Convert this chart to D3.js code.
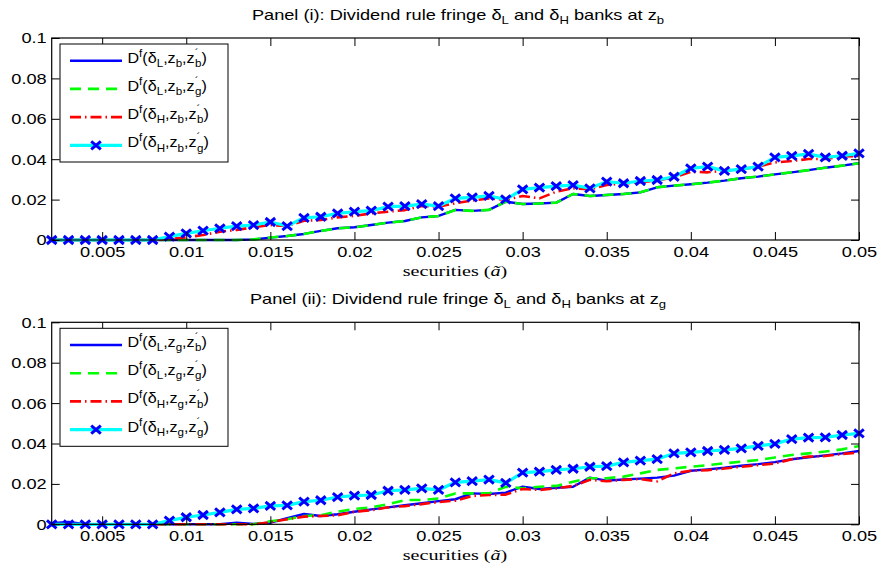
<!DOCTYPE html>
<html><head><meta charset="utf-8">
<script src="https://cdn.jsdelivr.net/npm/d3@7"></script>
<style>body{margin:0;background:#fff}svg{display:block}</style>
</head><body>
<svg id="c" width="879" height="564"></svg>
<script>
const xValues = [0.002,0.003,0.004,0.005,0.006,0.007,0.008,0.009,0.010,0.011,
  0.012,0.013,0.014,0.015,0.016,0.017,0.018,0.019,0.020,0.021,
  0.022,0.023,0.024,0.025,0.026,0.027,0.028,0.029,0.030,0.031,
  0.032,0.033,0.034,0.035,0.036,0.037,0.038,0.039,0.040,0.041,
  0.042,0.043,0.044,0.045,0.046,0.047,0.048,0.049,0.050];

// Panel (i)
const topLb = [0,0,0,0,0,0,0,0,0,0,
  0,0,0.0003,0.0012,0.002,0.003,0.0045,0.0058,0.0063,0.0074,
  0.0086,0.0094,0.0112,0.0119,0.0149,0.0144,0.0149,0.019,0.0178,0.0181,
  0.0185,0.0228,0.0218,0.0223,0.0228,0.0236,0.0261,0.0269,0.0276,0.0284,
  0.0294,0.0306,0.0314,0.0325,0.0335,0.0346,0.0358,0.0368,0.038];
const topLg = [0,0,0,0,0,0,0,0,0,0,
  0,0,0.0003,0.0012,0.002,0.003,0.0045,0.0058,0.0063,0.0074,
  0.0086,0.0094,0.0112,0.0119,0.0149,0.0144,0.0149,0.019,0.0178,0.0181,
  0.0185,0.0228,0.0218,0.0223,0.0228,0.0236,0.0261,0.0269,0.0276,0.0284,
  0.0294,0.0306,0.0314,0.0325,0.0335,0.0346,0.0358,0.0368,0.038];
const topHb = [0,0,0,0,0,0,0,0.0005,0.0013,0.0025,
  0.0041,0.005,0.0063,0.0074,0.0069,0.0095,0.0099,0.0112,0.0119,0.0132,
  0.014,0.0148,0.0168,0.0165,0.0182,0.0195,0.0206,0.0199,0.0218,0.0206,
  0.0239,0.0256,0.0251,0.0272,0.028,0.0286,0.0295,0.031,0.0338,0.0335,
  0.0343,0.035,0.0363,0.0384,0.0391,0.0401,0.0401,0.0413,0.0416];
const topHg = [0,0,0,0,0,0,0,0.0017,0.0033,0.0046,
  0.0058,0.0069,0.0074,0.0089,0.0069,0.011,0.0115,0.0132,0.014,0.0145,
  0.0165,0.0168,0.0178,0.0168,0.0206,0.0211,0.0218,0.0201,0.0251,0.0259,
  0.0267,0.0272,0.0256,0.0289,0.0281,0.0292,0.0297,0.0313,0.0355,0.0363,
  0.0342,0.0351,0.0363,0.0409,0.0416,0.0426,0.0409,0.0417,0.0429];

// Panel (ii)
const botLb = [0.0005,0.0012,0,0,0,0,0,0,0,0,
  0,0.0008,0.0002,0.0008,0.003,0.0051,0.0041,0.005,0.0062,0.0074,
  0.0084,0.0094,0.0104,0.0115,0.0124,0.0153,0.015,0.0157,0.0186,0.0175,
  0.0181,0.0186,0.0231,0.0216,0.0222,0.0226,0.0231,0.0241,0.0265,0.0272,
  0.028,0.029,0.0298,0.0308,0.0322,0.0332,0.0341,0.0351,0.0363];
const botLg = [0,0,0,0,0,0,0,0,0,0,
  0,0,0,0.0015,0.0025,0.0041,0.0045,0.0063,0.0076,0.0084,
  0.0099,0.012,0.012,0.0128,0.0153,0.0153,0.0153,0.0186,0.0178,0.0186,
  0.019,0.0211,0.0228,0.0228,0.0236,0.0252,0.0269,0.0277,0.0285,0.0293,
  0.0302,0.031,0.0318,0.0331,0.0343,0.0351,0.036,0.0371,0.0388];
const botHb = [0,0,0,0,0,0,0,0,0,0,
  0,0,0,0.001,0.0025,0.0038,0.0041,0.0045,0.0062,0.007,
  0.0084,0.009,0.01,0.011,0.0117,0.014,0.0145,0.0147,0.0175,0.017,
  0.0178,0.019,0.022,0.0213,0.022,0.0224,0.0213,0.0252,0.0265,0.0268,
  0.0276,0.0285,0.0293,0.0301,0.0322,0.0335,0.0338,0.0348,0.0355];
const botHg = [0,0,0,0,0,0,0,0.0018,0.0035,0.0046,
  0.0059,0.0074,0.0079,0.0091,0.0094,0.0112,0.0119,0.0135,0.0142,0.0145,
  0.0166,0.017,0.0178,0.017,0.0208,0.0214,0.0221,0.0205,0.0256,0.0261,
  0.0269,0.0275,0.0285,0.0288,0.0307,0.0315,0.0323,0.0351,0.0356,0.0363,
  0.0368,0.0376,0.0388,0.0398,0.0422,0.0429,0.043,0.0442,0.045];

const xTicks = [0.005,0.01,0.015,0.02,0.025,0.03,0.035,0.04,0.045,0.05];
const yTicks = [0,0.02,0.04,0.06,0.08,0.1];
const yTickLabels = ["0","0.02","0.04","0.06","0.08","0.1"];

const panels = [
  {roman:"i", z:"b", top:38, series:[topLb,topLg,topHb,topHg]},
  {roman:"ii", z:"g", top:322.3, series:[botLb,botLg,botHb,botHg]}
];

const SX = 1.3;
const FONT = "'Liberation Sans', Arial, sans-serif";
const W0 = 51.7, W1 = 859, H = 202;
const styles = [
  {color:"#0000ff", width:2.4, dash:null, marker:false, kz:"b", d:"L"},
  {color:"#00ff00", width:2.6, dash:"11,7", marker:false, kz:"g", d:"L"},
  {color:"#ff0000", width:2.6, dash:"11,4,1.5,4", marker:false, kz:"b", d:"H"},
  {color:"#00ffff", width:3.2, dash:null, marker:true, kz:"g", d:"H"}
];

const svg = d3.select("#c");

function rich(g, x, y, parts, size, anchor, family, sx) {
  const t = g.append("text")
    .attr("transform", `translate(${x},${y}) scale(${sx},1)`)
    .attr("font-family", family).attr("font-size", size)
    .attr("text-anchor", anchor).attr("fill", "#000");
  let cur = 0;
  parts.forEach(p => {
    const off = p.sup ? -size*0.42 : (p.sub ? size*0.3 : 0);
    const ts = t.append("tspan").text(p.t).attr("dy", off - cur);
    if (p.sup || p.sub) ts.attr("font-size", size*0.72);
    if (p.dx) ts.attr("dx", p.dx);
    if (p.italic) ts.attr("font-style", "italic");
    cur = off;
  });
  return t;
}

function xMark(sel, x, y) {
  const a = 4.8, b = 4;
  sel.append("path")
    .attr("d", `M${x-a},${y-b}L${x+a},${y+b}M${x-a},${y+b}L${x+a},${y-b}`)
    .attr("stroke", "#0000ff").attr("stroke-width", 3).attr("fill", "none");
}

panels.forEach(p => {
  const g = svg.append("g");
  const x = d3.scaleLinear().domain([0.002, 0.05]).range([W0, W1]);
  const y = d3.scaleLinear().domain([0, 0.1]).range([p.top + H, p.top]);

  const line = d3.line().x((d, i) => x(xValues[i])).y(d => y(d));
  p.series.forEach((s, k) => {
    const st = styles[k];
    g.append("path").datum(s).attr("d", line)
      .attr("fill", "none").attr("stroke", st.color)
      .attr("stroke-width", st.width)
      .attr("stroke-dasharray", st.dash)
      .attr("stroke-linejoin", "round");
    if (st.marker) {
      const mg = g.append("g");
      s.forEach((v, i) => xMark(mg, x(xValues[i]), y(v)));
    }
  });

  const bottom = g.append("g").attr("transform", `translate(0,${p.top + H})`)
    .call(d3.axisBottom(x).tickValues(xTicks).tickSizeInner(-8).tickSizeOuter(0)
      .tickFormat(d3.format("")));
  const topA = g.append("g").attr("transform", `translate(0,${p.top})`)
    .call(d3.axisTop(x).tickValues(xTicks).tickSizeInner(-8).tickSizeOuter(0).tickFormat(""));
  const left = g.append("g").attr("transform", `translate(${W0},0)`)
    .call(d3.axisLeft(y).tickValues(yTicks).tickSizeInner(-8).tickSizeOuter(0)
      .tickFormat((d, i) => yTickLabels[i]));
  const right = g.append("g").attr("transform", `translate(${W1},0)`)
    .call(d3.axisRight(y).tickValues(yTicks).tickSizeInner(-8).tickSizeOuter(0).tickFormat(""));
  [bottom, topA, left, right].forEach(a => {
    a.select(".domain").remove();
    a.selectAll("line").attr("stroke", "#000").attr("stroke-width", 1);
  });
  bottom.selectAll("text").attr("font-family", FONT).attr("font-size", 14)
    .attr("fill", "#000").attr("y", 0).attr("dy", 0)
    .attr("transform", `translate(0,16.5) scale(${SX},1)`);
  left.selectAll("text").attr("font-family", FONT).attr("font-size", 14)
    .attr("fill", "#000").attr("x", 0).attr("dy", "0.35em")
    .attr("transform", `translate(-5,0) scale(${SX},1)`);

  g.append("rect").attr("x", W0).attr("y", p.top).attr("width", W1 - W0).attr("height", H)
    .attr("fill", "none").attr("stroke", "#000").attr("stroke-width", 1.2);

  rich(g, 458, p.top - 18.5, [
    {t:`Panel (${p.roman}): Dividend rule fringe δ`}, {t:"L", sub:1},
    {t:" and δ"}, {t:"H", sub:1}, {t:" banks at z"}, {t:p.z, sub:1}
  ], 14, "middle", FONT, 1.3);

  rich(g, 455, p.top + H + 36, [
    {t:"securities ("}, {t:"ã", italic:1}, {t:")"}
  ], 15.5, "middle", "'Liberation Serif', 'DejaVu Serif', serif", 1.3);

  const lg = g.append("g");
  lg.append("rect").attr("x", 60).attr("y", p.top + 6).attr("width", 168).attr("height", 118)
    .attr("fill", "#fff").attr("stroke", "#000").attr("stroke-width", 1);
  styles.forEach((st, k) => {
    const ly = p.top + 22.7 + k * 28.2;
    lg.append("line").attr("x1", 70).attr("x2", 122).attr("y1", ly).attr("y2", ly)
      .attr("stroke", st.color).attr("stroke-width", st.width)
      .attr("stroke-dasharray", st.dash);
    if (st.marker) xMark(lg, 96, ly);
    rich(lg, 127.5, ly + 2, [
      {t:"D"}, {t:"f", sup:1}, {t:"(δ"}, {t:st.d, sub:1}, {t:",z"}, {t:p.z, sub:1},
      {t:",z"}, {t:"´", sup:1}, {t:st.kz, sub:1, dx:-3}, {t:")"}
    ], 14, "start", FONT, 1.15);
  });
});
</script>
</body></html>
